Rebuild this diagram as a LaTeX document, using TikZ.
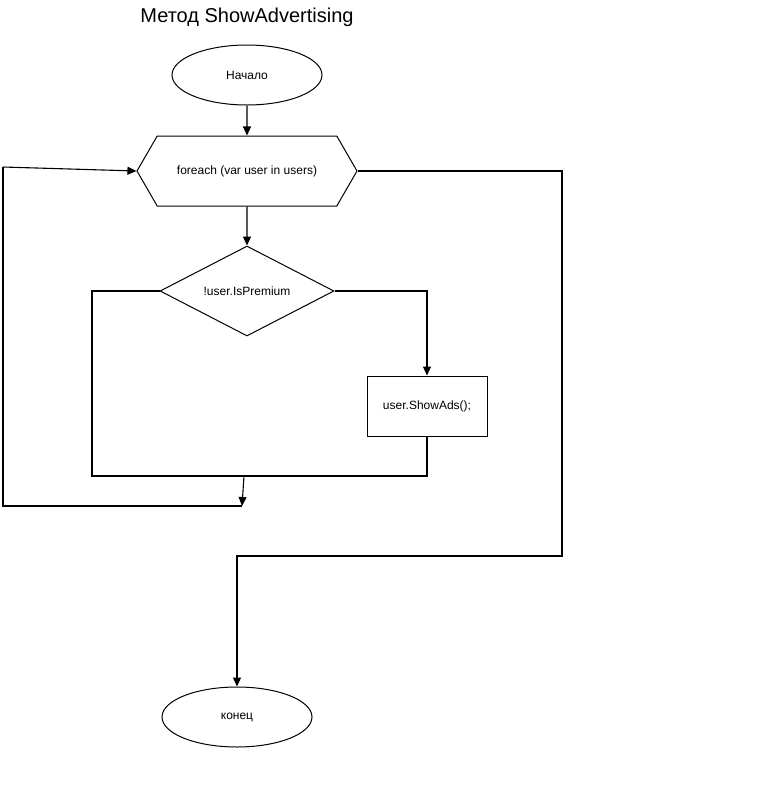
\documentclass[tikz,border=0pt]{standalone}
\usepackage{fontspec}
\setmainfont{Liberation Sans}
\usetikzlibrary{arrows.meta,shapes.geometric,shapes.symbols}

\tikzset{
	blk/.style={draw, line width=1pt, font=\fontsize{12}{14}\selectfont, inner sep=0pt},
	flow/.style={line width=1.1pt, -{Triangle[length=9pt,width=8pt]}},
	wire/.style={line width=1.1pt},
}

\begin{document}
\begin{tikzpicture}[x=1pt, y=-1pt]
			%%%%% START %%%%%
			\useasboundingbox (0, 0) rectangle (784, 788);
			
			\node[font=\fontsize{20}{24}\selectfont] (title) at (247, 17) {Метод ShowAdvertising};
			
			\node[blk, ellipse, minimum width=150pt, minimum height=60pt] (start) at (247, 75) {Начало};
			\node[blk, signal, signal to=west and east, signal pointer angle=120, minimum width=220pt, minimum height=70pt] (loop) at (247, 171) {foreach (var user in users)};
			\node[blk, diamond, aspect=1.93, minimum width=174pt, minimum height=90pt] (cond) at (247, 291) {!user.IsPremium};
			\node[blk, rectangle, minimum width=120pt, minimum height=60pt] (ads) at (427, 406) {user.ShowAds();};
			\node[blk, ellipse, minimum width=150pt, minimum height=60pt] (finish) at (237, 717) {конец};
			
			\coordinate (join) at (244, 476);
			\coordinate (back) at (242, 506);
			\coordinate (ret) at (3, 167);
			\coordinate (exit) at (562, 556);
			
			\draw[flow] (start) -- (loop);
			\draw[flow] (loop) -- (cond);
			\draw[flow] (cond.east) -| (ads.north);
			\draw[wire] (ads.south) |- (92, 476) |- (cond.west);
			\draw[flow] (join) -- (back);
			\draw[wire] (back) -- (3, 506) -- (ret);
			\draw[flow] (ret) -- (loop.west);
			
			\draw[flow] (loop.east) -| (exit) -| (finish.north);
			
			%%%%% END %%%%%
\end{tikzpicture}
\end{document}
